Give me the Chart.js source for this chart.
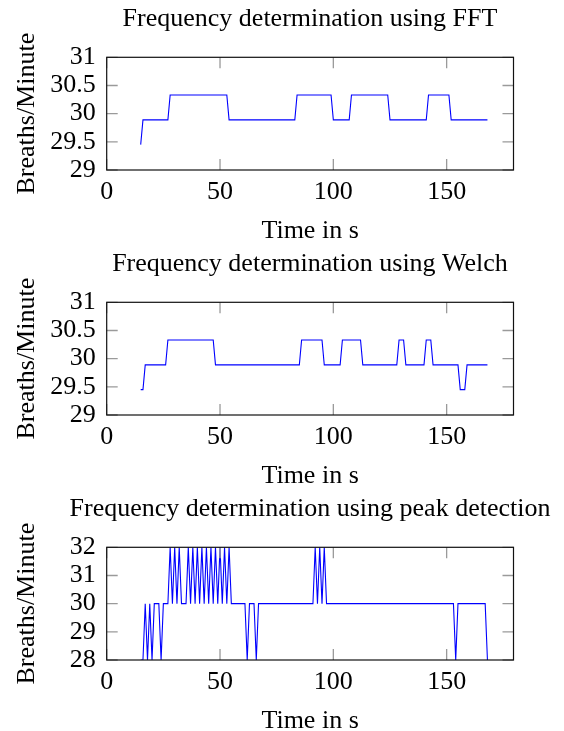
<!DOCTYPE html>
<html>
<head>
<meta charset="utf-8">
<script src="https://cdn.jsdelivr.net/npm/chart.js@4.4.0/dist/chart.umd.min.js"></script>
<style>
  html, body { margin: 0; padding: 0; background: #fff; overflow: hidden; }
  body { width: 564px; height: 731px; position: relative; }
  canvas { position: absolute; left: 0; }
</style>
</head>
<body>
<canvas id="fftChart" width="620" height="250" style="top:0px"></canvas>
<canvas id="welchChart" width="620" height="250" style="top:245px"></canvas>
<canvas id="peakChart" width="620" height="250" style="top:490px"></canvas>
<script>
// tick labels
const timeTicks = [0, 50, 100, 150];
const spectralRateTicks = [29, 29.5, 30, 30.5, 31];
const peakRateTicks = [28, 29, 30, 31, 32];

// FFT estimate (vertices of the step curve)
const fftTime = [15, 16, 27, 28, 53, 54, 83, 84, 99, 100, 107, 108, 124, 125, 141, 142, 151, 152, 168];
const fftRate = [29.45, 29.89, 29.89, 30.33, 30.33, 29.89, 29.89, 30.33, 30.33, 29.89, 29.89, 30.33, 30.33, 29.89, 29.89, 30.33, 30.33, 29.89, 29.89];

// Welch estimate
const welchTime = [15, 16, 17, 26, 27, 47, 48, 85, 86, 95, 96, 103, 104, 112, 113, 128, 129, 131, 132, 140, 141, 143, 144, 155, 156, 158, 159, 168];
const welchRate = [29.45, 29.45, 29.89, 29.89, 30.33, 30.33, 29.89, 29.89, 30.33, 30.33, 29.89, 29.89, 30.33, 30.33, 29.89, 29.89, 30.33, 30.33, 29.89, 29.89, 30.33, 30.33, 29.89, 29.89, 29.45, 29.45, 29.89, 29.89];

// peak detection estimate
const peakTime = [15, 16, 17, 18, 19, 20, 21, 23, 24, 25, 27, 28, 29, 30, 31, 32, 33, 35,
  36, 37, 38, 39, 40, 41, 42, 43, 44, 45, 46, 47, 48, 49, 50, 51, 52, 53, 54, 55,
  61, 62, 63, 65, 66, 67, 91, 92, 93, 94, 95, 96, 97, 153, 154, 155, 167, 168];
const peakRate = [28, 28, 30, 28, 30, 28, 30, 30, 28, 30, 30, 32, 30, 32, 30, 32, 30, 30,
  32, 30, 32, 30, 32, 30, 32, 30, 32, 30, 32, 30, 32, 30, 32, 30, 32, 30, 32, 30,
  30, 28, 30, 30, 28, 30, 30, 32, 30, 32, 30, 32, 30, 30, 28, 30, 30, 28];

Chart.defaults.font.family = "'Liberation Serif', 'Times New Roman', serif";
Chart.defaults.font.size = 26;
Chart.defaults.color = '#000';

// pgfplots style box with small inner tick marks
const frameTicks = {
  id: 'frameTicks',
  afterDatasetsDraw(chart) {
    const { ctx, chartArea: a, scales } = chart;
    const len = 11;
    ctx.save();
    ctx.strokeStyle = '#9a9a9a';
    ctx.lineWidth = 1.3;
    ctx.beginPath();
    scales.x.ticks.forEach(t => {
      const px = scales.x.getPixelForValue(t.value);
      ctx.moveTo(px, a.bottom); ctx.lineTo(px, a.bottom - len);
      ctx.moveTo(px, a.top); ctx.lineTo(px, a.top + len);
    });
    scales.y.ticks.forEach(t => {
      const py = scales.y.getPixelForValue(t.value);
      ctx.moveTo(a.left, py); ctx.lineTo(a.left + len, py);
      ctx.moveTo(a.right, py); ctx.lineTo(a.right - len, py);
    });
    ctx.stroke();
    ctx.strokeStyle = '#111';
    ctx.lineWidth = 1.2;
    ctx.strokeRect(a.left, a.top, a.right - a.left, a.bottom - a.top);
    ctx.restore();
  }
};

function makeChart(id, title, times, rates, rateTicks) {
  const points = times.map((t, i) => ({ x: t, y: rates[i] }));
  return new Chart(document.getElementById(id), {
    type: 'line',
    data: {
      datasets: [{
        data: points,
        borderColor: '#0000ff',
        borderWidth: 1.1,
        pointRadius: 0,
        tension: 0,
        fill: false
      }]
    },
    options: {
      responsive: false,
      animation: false,
      layout: { padding: 0 },
      plugins: {
        legend: { display: false },
        tooltip: { enabled: false },
        title: {
          display: true,
          text: title,
          font: { size: 26, weight: 'normal' },
          color: '#000',
          padding: { top: 3.6, bottom: 22.5 }
        }
      },
      scales: {
        x: {
          type: 'linear',
          min: 0,
          max: 179.5,
          grid: { display: false, drawTicks: false },
          border: { display: false },
          afterBuildTicks: axis => { axis.ticks = timeTicks.map(v => ({ value: v })); },
          afterFit: axis => { axis.height = 80; },
          ticks: { padding: 6.4, maxRotation: 0, autoSkip: false, callback: v => String(v) },
          title: { display: true, text: 'Time in s', padding: { top: 0, bottom: 3.4 } }
        },
        y: {
          min: rateTicks[0],
          max: rateTicks[rateTicks.length - 1],
          grid: { display: false, drawTicks: false },
          border: { display: false },
          afterBuildTicks: axis => { axis.ticks = rateTicks.map(v => ({ value: v })); },
          afterFit: axis => { axis.width = 106.7; },
          ticks: { padding: 11, autoSkip: false, callback: v => String(v) },
          title: { display: true, text: 'Breaths/Minute', padding: { top: 11.4, bottom: 0 } }
        },
        // empty right axis so the title centres over the plot box
        yRight: {
          position: 'right',
          grid: { display: false, drawTicks: false },
          border: { display: false },
          ticks: { display: false },
          afterFit: axis => { axis.width = 106.5; }
        }
      }
    },
    plugins: [frameTicks]
  });
}

makeChart('fftChart', 'Frequency determination using FFT', fftTime, fftRate, spectralRateTicks);
makeChart('welchChart', 'Frequency determination using Welch', welchTime, welchRate, spectralRateTicks);
makeChart('peakChart', 'Frequency determination using peak detection', peakTime, peakRate, peakRateTicks);
</script>
</body>
</html>
